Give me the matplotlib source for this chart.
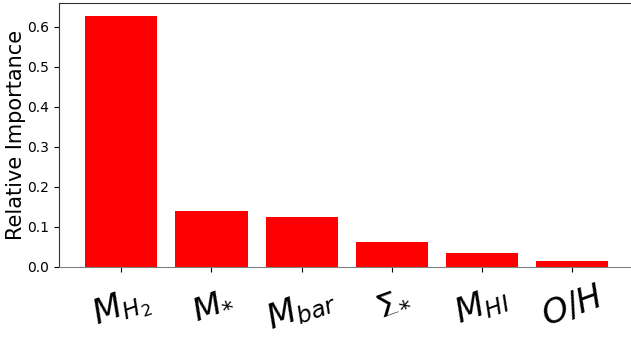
import numpy as np
import matplotlib.pyplot as plt

# feature importances
labels = [r'$M_{H_2}$', r'$M_{*}$', r'$M_{bar}$', r'$\Sigma_{*}$', r'$M_{HI}$', r'$O/H$']
importance = [0.628, 0.140, 0.125, 0.062, 0.035, 0.015]

fig = plt.figure(figsize=(6.31, 3.37), dpi=100)
ax = fig.add_axes([59 / 631, 70 / 337, 575.5 / 631, 264 / 337])

x = np.arange(len(labels))
ax.bar(x, importance, width=0.8, color='red')
ax.set_xlim(-0.69, 5.69)
ax.set_ylim(0, 0.66)
ax.set_xticks(x)
ax.set_xticklabels(labels, fontsize=24, rotation=20)
ax.tick_params(axis='x', pad=6)
ax.set_ylabel('Relative Importance', fontsize=15, labelpad=1)
for s in ['left', 'top']:
    ax.spines[s].set_color('#333333')
ax.spines['bottom'].set_color('#808080')

fig.savefig('out.png', dpi=100)
